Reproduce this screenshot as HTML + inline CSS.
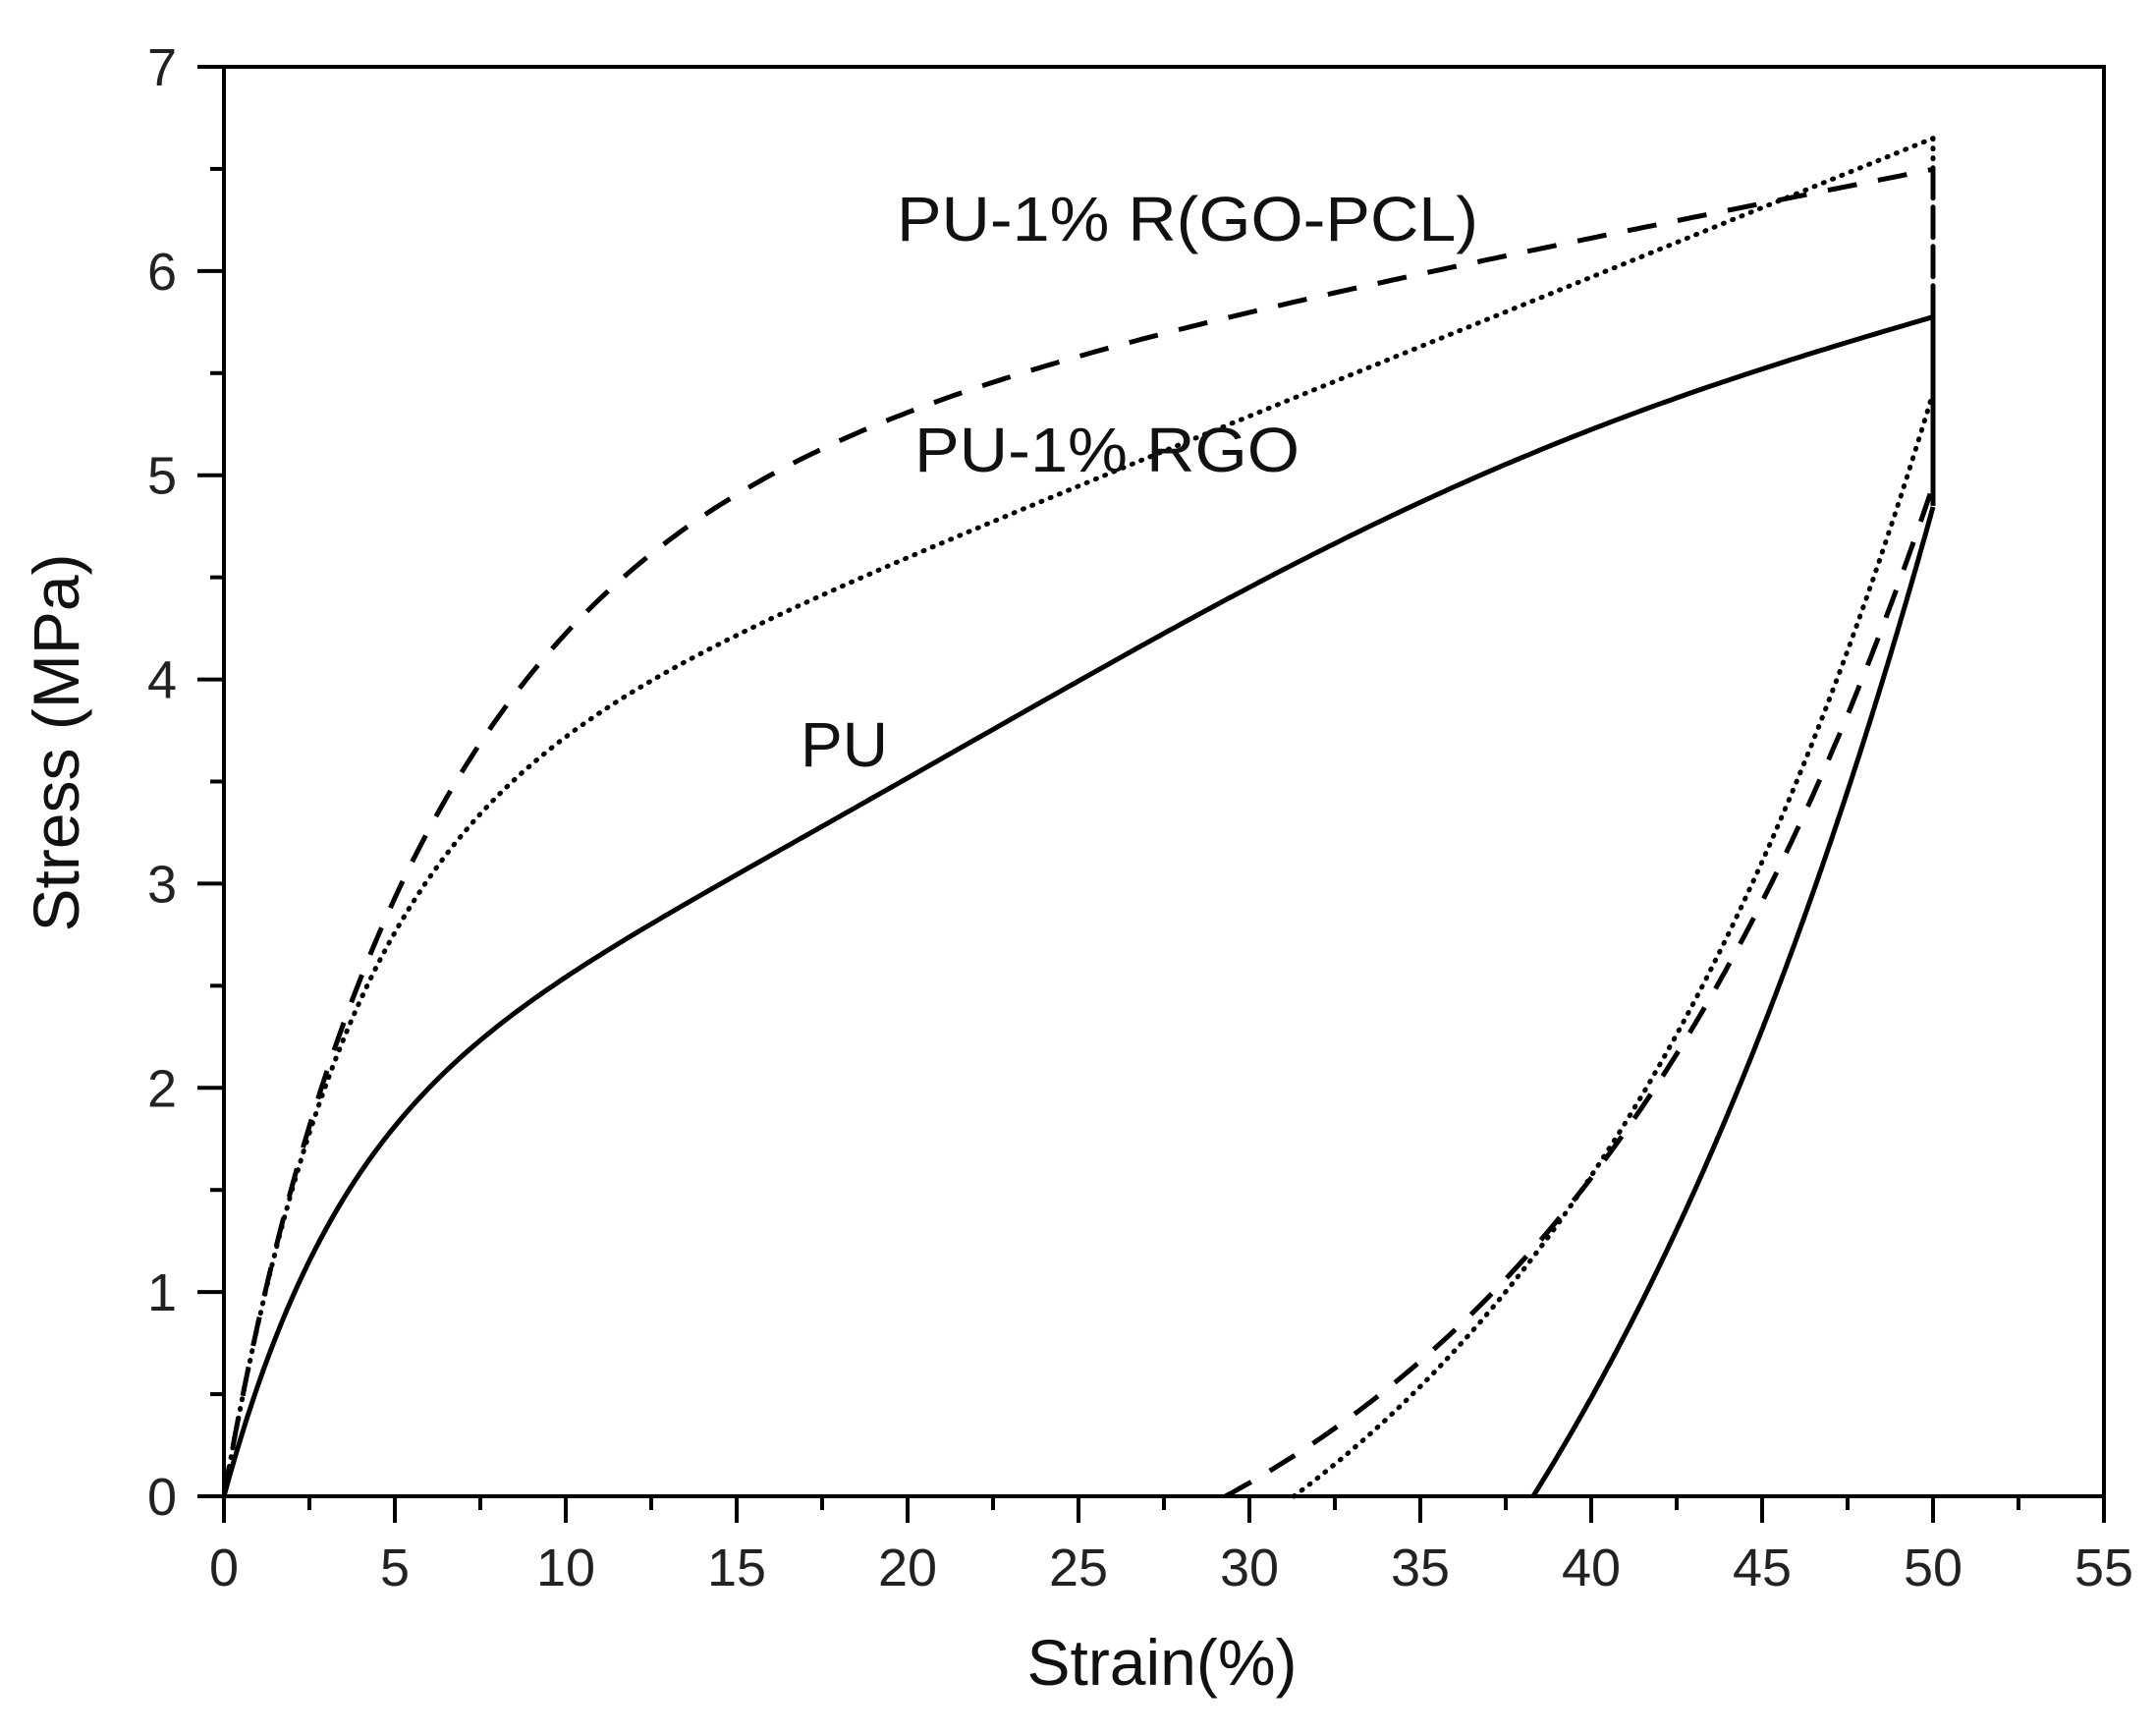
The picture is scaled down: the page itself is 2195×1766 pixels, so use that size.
<!DOCTYPE html>
<html><head><meta charset="utf-8"><style>html,body{margin:0;padding:0;background:#fff}</style></head>
<body>
<svg id="s" width="2195" height="1761" viewBox="0 0 2195 1761" xmlns="http://www.w3.org/2000/svg" font-family="Liberation Sans, Arial, sans-serif">
<rect width="2195" height="1761" fill="#fff"/>
<g id="ax" stroke="#000" stroke-width="4" fill="none"></g>
<g id="curves" fill="none" stroke="#000" stroke-width="5" stroke-linejoin="round"></g>
<g id="lbl" font-size="54" fill="#222"></g>
<text x="913" y="245" font-size="64" fill="#111" textLength="592" lengthAdjust="spacingAndGlyphs">PU-1% R(GO-PCL)</text>
<text x="931" y="480" font-size="64" fill="#111" textLength="392" lengthAdjust="spacingAndGlyphs">PU-1% RGO</text>
<text x="815" y="780" font-size="64" fill="#111">PU</text>
<text x="1183" y="1715" font-size="66" fill="#111" text-anchor="middle">Strain(%)</text>
<text transform="translate(80,756) rotate(-90)" font-size="66" fill="#111" text-anchor="middle">Stress (MPa)</text>
</svg>
<script>
var L=228,R=2142,T=68,B=1523;
function X(v){return L+v*(R-L)/55;}function Y(v){return B-v*(B-T)/7;}
var ns="http://www.w3.org/2000/svg",ax=document.getElementById('ax'),lb=document.getElementById('lbl');
function ln(x1,y1,x2,y2){var e=document.createElementNS(ns,'line');e.setAttribute('x1',x1);e.setAttribute('y1',y1);e.setAttribute('x2',x2);e.setAttribute('y2',y2);ax.appendChild(e);}
var r=document.createElementNS(ns,'rect');r.setAttribute('x',L);r.setAttribute('y',T);r.setAttribute('width',R-L);r.setAttribute('height',B-T);ax.appendChild(r);
function tx(x,y,s,a){var e=document.createElementNS(ns,'text');e.setAttribute('x',x);e.setAttribute('y',y);e.setAttribute('text-anchor',a);e.textContent=s;lb.appendChild(e);}
for(var i=0;i<=55;i+=2.5){var x=X(i),maj=(i%5==0);ln(x,B,x,B+(maj?27:14));if(maj){tx(x,1614,String(i),'middle');}}
for(var j=0;j<=7;j+=0.5){var y=Y(j),maj=(j%1==0);ln(L,y,L-(maj?27:14),y);if(maj){tx(180,y+19,String(j),'end');}}
var cv=document.getElementById('curves');
function add(f,x0,x1,dash,w){var d='',n=300;for(var k=0;k<=n;k++){var x=x0+(x1-x0)*k/n,y=f(x);d+=(k?' L':'M')+X(x).toFixed(1)+','+Y(y).toFixed(1);}
var e=document.createElementNS(ns,'path');e.setAttribute('d',d);if(dash)e.setAttribute('stroke-dasharray',dash);if(w)e.setAttribute('stroke-width',w);if(dash=='1 9')e.setAttribute('stroke-linecap','round');cv.appendChild(e);}
function vl(y0,y1,dash){var e=document.createElementNS(ns,'path');e.setAttribute('d','M'+X(50)+','+Y(y0)+' L'+X(50)+','+Y(y1));if(dash)e.setAttribute('stroke-dasharray',dash);if(dash=='1 9')e.setAttribute('stroke-linecap','round');cv.appendChild(e);}
// PU
add(function(x){return 1.9*(1-Math.exp(-x/3.5))+0.09*x-0.00025*x*x-0.13*Math.sin(Math.PI*x/25);},0,50);
vl(5.78,4.85);
add(function(x){return 3.82*(Math.exp(0.07*(x-38.3))-1);},38.3,50);
// dashed
add(function(x){return 4.5*(1-Math.exp(-x/6.45))+0.033*x+0.35*(1-Math.exp(-x/1.5));},0,50,'30 22');
vl(6.5,4.95,'30 10');
add(function(x){return 1.11*(Math.exp(0.082*(x-29.3))-1);},29.3,50,'30 22');
// dotted
add(function(x){return 3.25*(1-Math.exp(-x/3.66))+0.068*x;},0,50,'1 9');
vl(6.65,5.4,'1 9');
add(function(x){return 1.56*(Math.exp(0.08*(x-31.3))-1);},31.3,50,'1 9');
</script>
</body></html>
